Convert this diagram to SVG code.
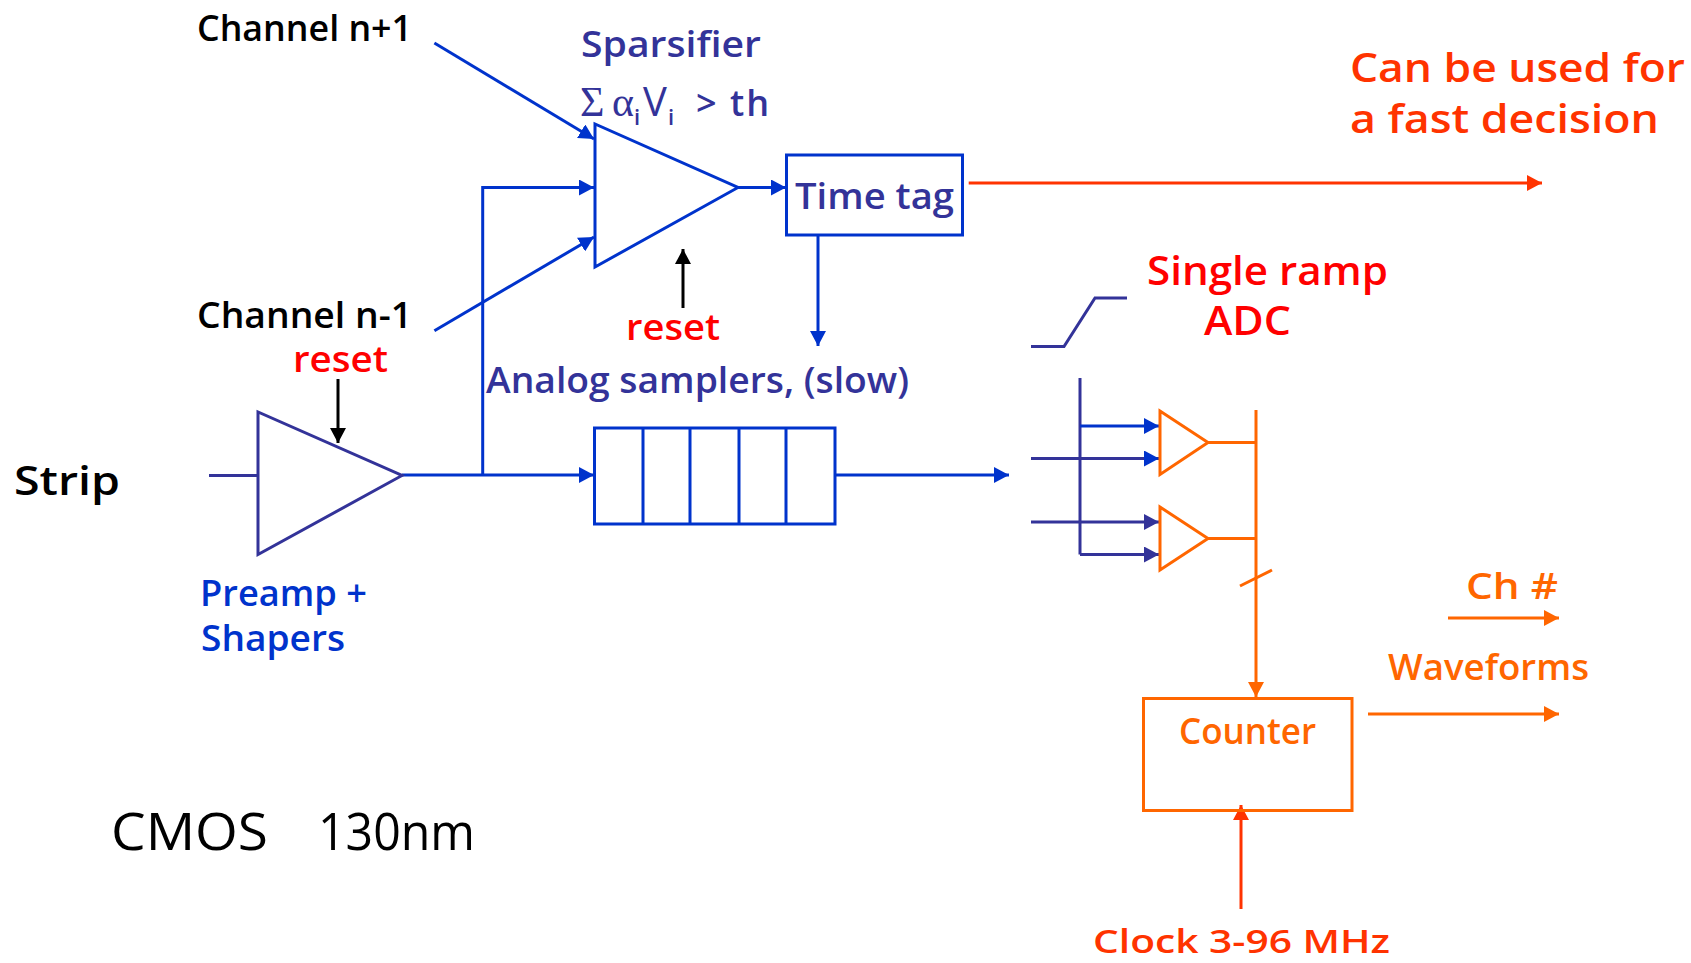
<svg xmlns="http://www.w3.org/2000/svg" width="1691" height="963" viewBox="0 0 1691 963">
<style>
text{font-family:"Open Sans","Noto Sans","DejaVu Sans",sans-serif;font-weight:600;font-size:36px}
.k{fill:#000}.d{fill:#333399}.b{fill:#0033cc}.o{fill:#ff6600}.r{fill:#ff0000}.ro{fill:#ff3300}
.ls{fill:none;stroke-width:3}
.sd{stroke:#333399}.sb{stroke:#0033cc}.so{stroke:#ff6600}.sr{stroke:#ff3300}.sk{stroke:#000}
</style>
<defs>
<marker id="ab" markerUnits="userSpaceOnUse" markerWidth="15" markerHeight="16" refX="15" refY="8" orient="auto"><path d="M0 0L15 8L0 16z" fill="#0033cc"/></marker>
<marker id="ad" markerUnits="userSpaceOnUse" markerWidth="15" markerHeight="16" refX="15" refY="8" orient="auto"><path d="M0 0L15 8L0 16z" fill="#333399"/></marker>
<marker id="ao" markerUnits="userSpaceOnUse" markerWidth="15" markerHeight="16" refX="15" refY="8" orient="auto"><path d="M0 0L15 8L0 16z" fill="#ff6600"/></marker>
<marker id="ar" markerUnits="userSpaceOnUse" markerWidth="15" markerHeight="16" refX="15" refY="8" orient="auto"><path d="M0 0L15 8L0 16z" fill="#ff3300"/></marker>
<marker id="ak" markerUnits="userSpaceOnUse" markerWidth="15" markerHeight="16" refX="15" refY="8" orient="auto"><path d="M0 0L15 8L0 16z" fill="#000"/></marker>
</defs>
<g id="connectors" class="ls">
<path class="ls sb" d="M434.400 43L594 139" marker-end="url(#ab)"/>
<path class="ls sb" d="M434.400 330.700L594 237" marker-end="url(#ab)"/>
<path class="ls sb" d="M482.700 475V187.500H594" marker-end="url(#ab)"/>
<path class="ls sb" d="M737.500 187.500H786" marker-end="url(#ab)"/>
<path class="ls sk" d="M683 308V249" marker-end="url(#ak)"/>
<path class="ls sb" d="M818 235V346" marker-end="url(#ab)"/>
<path class="ls sr" d="M968.700 183H1542" marker-end="url(#ar)"/>
<path class="ls sd" d="M209 475.500H258"/>
<path class="ls sk" d="M338 379V443" marker-end="url(#ak)"/>
<path class="ls sb" d="M402 475H594" marker-end="url(#ab)"/>
<path class="ls sb" d="M835 475H1009" marker-end="url(#ab)"/>
<path class="ls sd" d="M1031 346.500H1064L1095 298H1127"/>
<path class="ls sd" d="M1080 378V554.500"/>
<path class="ls sb" d="M1080 426H1159" marker-end="url(#ab)"/>
<path class="ls sd" d="M1031 458.500H1159" marker-end="url(#ab)"/>
<path class="ls sd" d="M1031 522H1159" marker-end="url(#ad)"/>
<path class="ls sd" d="M1080 554.500H1159" marker-end="url(#ad)"/>
<path class="ls so" d="M1208 442.500H1256M1208 538.500H1256"/>
<path class="ls so" d="M1256 410V697" marker-end="url(#ao)"/>
<path class="ls so" d="M1240 586L1272 570"/>
<path class="ls so" d="M1448 618H1559" marker-end="url(#ao)"/>
<path class="ls so" d="M1368 714H1559" marker-end="url(#ao)"/>
<path class="ls sr" d="M1241 909V805" marker-end="url(#ar)"/>
</g>
<g id="sparsifier"><path class="ls sb" d="M595 124V267L738 187.500z"/>
<text class="d" x="581" y="57" textLength="180" lengthAdjust="spacingAndGlyphs">Sparsifier</text>
<text class="d" x="580" y="116" style="font-family:'Liberation Serif',serif;font-size:42px;font-weight:400">Σ</text>
<text class="d" x="612" y="116" style="font-family:'Liberation Serif',serif;font-size:42px;font-weight:400">α</text><text class="d" x="634" y="125" style="font-size:22px">i</text>
<text class="d" x="643" y="116" style="font-size:40px;font-weight:400">V</text><text class="d" x="668" y="125" style="font-size:22px">i</text>
<text class="d" x="696" y="116" textLength="73" lengthAdjust="spacing">&gt; th</text></g>
<g id="timetag"><rect class="ls sb" x="786.500" y="155" width="176" height="80"/>
<text class="d" x="795" y="209" textLength="159" lengthAdjust="spacingAndGlyphs">Time tag</text></g>
<g id="preamp"><path class="ls sd" d="M258 412V554.500L402 475.500z"/>
<text class="b" x="200" y="606" textLength="167" lengthAdjust="spacingAndGlyphs">Preamp +</text>
<text class="b" x="201" y="651" textLength="144" lengthAdjust="spacingAndGlyphs">Shapers</text></g>
<g id="samplers"><path class="ls sb" d="M594.500 428H835V524H594.500zM643 428V524M690 428V524M739 428V524M786 428V524"/>
<text class="d" x="486" y="393" textLength="423" lengthAdjust="spacingAndGlyphs">Analog samplers, (slow)</text></g>
<g id="comp1"><path class="ls so" d="M1160 411V474.500L1208 442.500z"/></g>
<g id="comp2"><path class="ls so" d="M1160 507V570L1208 538.500z"/></g>
<g id="counter"><rect class="ls so" x="1143.500" y="698.500" width="208.500" height="112"/>
<text class="o" x="1179" y="744" textLength="137" lengthAdjust="spacingAndGlyphs">Counter</text></g>
<g id="labels">
<text class="k" x="197" y="41" textLength="215" lengthAdjust="spacingAndGlyphs">Channel n+1</text>
<text class="k" x="197" y="328" textLength="215" lengthAdjust="spacingAndGlyphs">Channel n-1</text>
<text class="r" x="293" y="372" textLength="95" lengthAdjust="spacingAndGlyphs">reset</text>
<text class="r" x="626" y="340" textLength="94" lengthAdjust="spacingAndGlyphs">reset</text>
<text class="k" x="14" y="495" style="font-size:40px" textLength="106" lengthAdjust="spacingAndGlyphs">Strip</text>
<text class="ro" x="1350" y="82" style="font-size:40px" textLength="335" lengthAdjust="spacingAndGlyphs">Can be used for</text>
<text class="ro" x="1350" y="133" style="font-size:40px" textLength="309" lengthAdjust="spacingAndGlyphs">a fast decision</text>
<text class="r" x="1147" y="285" style="font-size:40px" textLength="241" lengthAdjust="spacingAndGlyphs">Single ramp</text>
<text class="r" x="1204" y="335" style="font-size:40px" textLength="87" lengthAdjust="spacingAndGlyphs">ADC</text>
<text class="o" x="1466" y="599" textLength="92" lengthAdjust="spacingAndGlyphs">Ch #</text>
<text class="o" x="1388" y="680" textLength="201" lengthAdjust="spacingAndGlyphs">Waveforms</text>
<text class="ro" x="1093" y="953" style="font-size:32px" textLength="297" lengthAdjust="spacingAndGlyphs">Clock 3-96 MHz</text>
<text class="k" x="111" y="850" style="font-size:52px;font-weight:400" textLength="157" lengthAdjust="spacingAndGlyphs">CMOS</text>
<text class="k" x="318" y="850" style="font-size:52px;font-weight:400" textLength="157" lengthAdjust="spacingAndGlyphs">130nm</text>
</g>
</svg>
